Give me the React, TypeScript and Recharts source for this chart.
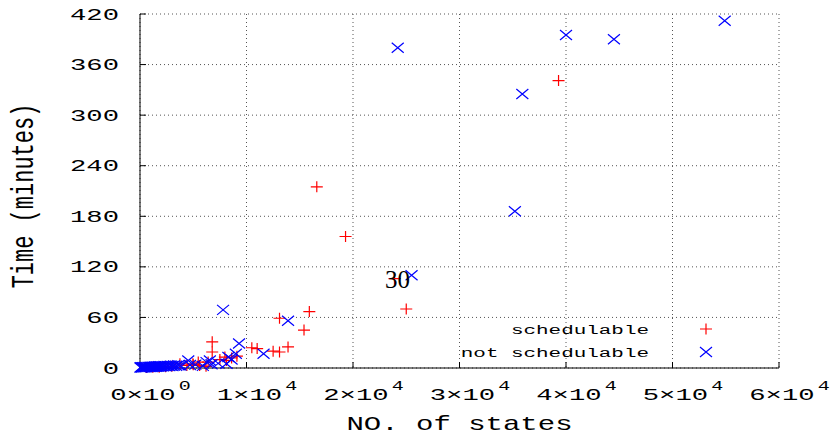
import React from 'react';
import { ScatterChart, Scatter, XAxis, YAxis, CartesianGrid, ReferenceDot, Label } from 'recharts';

const xTicks = [0, 10000, 20000, 30000, 40000, 50000, 60000];
const yTicks = [0, 60, 120, 180, 240, 300, 360, 420];

// red "+" points
const schedulable = [
  { states: 39300, minutes: 341 },
  { states: 16600, minutes: 215 },
  { states: 19300, minutes: 156 },
  { states: 25000, minutes: 70 },
  { states: 23900, minutes: 106 },
  { states: 15900, minutes: 67 },
  { states: 13100, minutes: 59 },
  { states: 15400, minutes: 45 },
  { states: 13900, minutes: 25 },
  { states: 6780, minutes: 31 },
  { states: 6780, minutes: 19 },
  { states: 10500, minutes: 24 },
  { states: 11000, minutes: 23 },
  { states: 12500, minutes: 20 },
  { states: 13100, minutes: 19 },
  { states: 7970, minutes: 13 },
  { states: 8120, minutes: 9 },
  { states: 7500, minutes: 10 },
  { states: 8600, minutes: 12 },
  { states: 9100, minutes: 14 },
  { states: 6400, minutes: 7 },
  { states: 5470, minutes: 7 },
  { states: 4970, minutes: 5 },
  { states: 3750, minutes: 5 },
  { states: 4400, minutes: 3 },
  { states: 5000, minutes: 4 },
  { states: 5600, minutes: 3 },
  { states: 6200, minutes: 2 },
  { states: 3000, minutes: 2 },
  { states: 2400, minutes: 1.5 },
  { states: 1800, minutes: 1 },
  { states: 1200, minutes: 1 },
  { states: 600, minutes: 0.5 },
];

// blue "x" points
const notSchedulable = [
  { states: 54900, minutes: 412 },
  { states: 40000, minutes: 395 },
  { states: 44500, minutes: 390 },
  { states: 24200, minutes: 380 },
  { states: 35900, minutes: 325 },
  { states: 35200, minutes: 186 },
  { states: 25500, minutes: 110 },
  { states: 7800, minutes: 69 },
  { states: 13900, minutes: 56 },
  { states: 9300, minutes: 29 },
  { states: 11600, minutes: 17 },
  { states: 9000, minutes: 17 },
  { states: 8300, minutes: 13 },
  { states: 8600, minutes: 10 },
  { states: 6560, minutes: 9 },
  { states: 4530, minutes: 9 },
  { states: 4690, minutes: 3.5 },
  { states: 6250, minutes: 7 },
  { states: 6720, minutes: 4.5 },
  { states: 7340, minutes: 5.5 },
  { states: 8120, minutes: 5 },
  { states: 5900, minutes: 2.5 },
  { states: 5200, minutes: 4 },
  { states: 40, minutes: 0.5 },
  { states: 120, minutes: 0.8 },
  { states: 200, minutes: 0.6 },
  { states: 280, minutes: 1.0 },
  { states: 360, minutes: 0.7 },
  { states: 440, minutes: 1.1 },
  { states: 520, minutes: 0.9 },
  { states: 600, minutes: 1.2 },
  { states: 700, minutes: 1.0 },
  { states: 800, minutes: 1.3 },
  { states: 900, minutes: 1.1 },
  { states: 1000, minutes: 1.4 },
  { states: 1100, minutes: 1.2 },
  { states: 1200, minutes: 1.6 },
  { states: 1300, minutes: 1.3 },
  { states: 1400, minutes: 1.7 },
  { states: 1500, minutes: 1.5 },
  { states: 1600, minutes: 1.8 },
  { states: 1700, minutes: 1.6 },
  { states: 1800, minutes: 2.0 },
  { states: 1900, minutes: 1.7 },
  { states: 2000, minutes: 2.1 },
  { states: 2150, minutes: 1.9 },
  { states: 2300, minutes: 2.3 },
  { states: 2450, minutes: 2.0 },
  { states: 2600, minutes: 2.5 },
  { states: 2750, minutes: 2.2 },
  { states: 2900, minutes: 2.8 },
  { states: 3050, minutes: 2.4 },
  { states: 3200, minutes: 3.0 },
  { states: 3400, minutes: 2.7 },
  { states: 3600, minutes: 3.3 },
  { states: 3800, minutes: 3.0 },
];

// stray label sitting in the plot
const annotation = { states: 24180, minutes: 105, text: '30' };

const MONO = '"Liberation Mono", "DejaVu Sans Mono", monospace';
const RED = '#ff0000';
const BLUE = '#0000ff';

function plusPath(cx: number, cy: number) {
  return `M${cx - 6},${cy}H${cx + 6}M${cx},${cy - 5.5}V${cy + 5.5}`;
}
function crossPath(cx: number, cy: number) {
  return `M${cx - 6},${cy - 5}L${cx + 6},${cy + 5}M${cx - 6},${cy + 5}L${cx + 6},${cy - 5}`;
}

const PlusShape = (props: any) => {
  const { cx, cy } = props;
  if (cx == null || cy == null) return null;
  return <path d={plusPath(cx, cy)} stroke={RED} strokeWidth={1.2} fill="none" />;
};

const CrossShape = (props: any) => {
  const { cx, cy } = props;
  if (cx == null || cy == null) return null;
  return <path d={crossPath(cx, cy)} stroke={BLUE} strokeWidth={1.2} fill="none" />;
};

const XTick = (props: any) => {
  const { x, y, payload } = props;
  const v = payload.value;
  const mant = v === 0 ? '0' : String(v / 10000);
  const exp = v === 0 ? '0' : '4';
  return (
    <g transform={`translate(${x + 10.5},${y + 32}) scale(1.6,1)`}>
      <text textAnchor="middle" fontFamily={MONO} fontSize={17} fill="#000">
        {mant}×10
        <tspan dx={2} dy={-10} fontSize={12.5}>
          {exp}
        </tspan>
      </text>
    </g>
  );
};

const YTick = (props: any) => {
  const { x, y, payload } = props;
  return (
    <g transform={`translate(${x - 21},${y + 5.5}) scale(1.6,1)`}>
      <text textAnchor="end" fontFamily={MONO} fontSize={17} fill="#000">
        {payload.value}
      </text>
    </g>
  );
};

const XTitle = (props: any) => {
  const { x, y, width } = props.viewBox;
  return (
    <g transform={`translate(${x + width / 2},${y + 62}) scale(1.45,1)`}>
      <text textAnchor="middle" fontFamily={MONO} fontSize={20} fill="#000">
        NO. of states
      </text>
    </g>
  );
};

const YTitle = (props: any) => {
  const { x, y, height } = props.viewBox;
  return (
    <g transform={`translate(${x - 47},${y + height / 2 + 5}) scale(1.4,1) rotate(-90)`}>
      <text textAnchor="middle" fontFamily={MONO} fontSize={22} fill="#000">
        Time (minutes)
      </text>
    </g>
  );
};

function LegendOverlay() {
  return (
    <svg
      width={831}
      height={437}
      style={{ position: 'absolute', left: 0, top: 0, pointerEvents: 'none' }}
    >
      <g transform="translate(649,334) scale(1.55,1)">
        <text textAnchor="end" fontFamily={MONO} fontSize={13.5} fill="#000">
          schedulable
        </text>
      </g>
      <path d={plusPath(706, 329)} stroke={RED} strokeWidth={1.2} fill="none" />
      <g transform="translate(649,357) scale(1.55,1)">
        <text textAnchor="end" fontFamily={MONO} fontSize={13.5} fill="#000">
          not schedulable
        </text>
      </g>
      <path d={crossPath(706, 352)} stroke={BLUE} strokeWidth={1.2} fill="none" />
    </svg>
  );
}

export default function App() {
  return (
    <div style={{ position: 'absolute', left: 0, top: 0, width: 831, height: 437, background: '#fff' }}>
      <ScatterChart width={831} height={437} margin={{ top: 14, right: 52, bottom: 29, left: 80 }}>
        <CartesianGrid stroke="#555" strokeDasharray="1 3" />
        <XAxis
          dataKey="states"
          type="number"
          domain={[0, 60000]}
          ticks={xTicks}
          height={40}
          tickSize={-6}
          tickMargin={6}
          tick={<XTick />}
          axisLine={{ stroke: '#000' }}
          tickLine={{ stroke: '#000' }}
          label={<Label content={<XTitle />} />}
        />
        <XAxis
          xAxisId="top"
          orientation="top"
          type="number"
          domain={[0, 60000]}
          ticks={xTicks}
          height={0}
          tickSize={-6}
          tick={false}
          axisLine={{ stroke: '#000' }}
          tickLine={{ stroke: '#000' }}
        />
        <YAxis
          dataKey="minutes"
          type="number"
          domain={[0, 420]}
          ticks={yTicks}
          width={60}
          tickSize={-6}
          tickMargin={6}
          tick={<YTick />}
          axisLine={{ stroke: '#000' }}
          tickLine={{ stroke: '#000' }}
          label={<Label content={<YTitle />} />}
        />
        <YAxis
          yAxisId="right"
          orientation="right"
          type="number"
          domain={[0, 420]}
          ticks={yTicks}
          width={0}
          tickSize={-6}
          tick={false}
          axisLine={{ stroke: '#000' }}
          tickLine={{ stroke: '#000' }}
        />
        <Scatter data={schedulable} shape={<PlusShape />} isAnimationActive={false} />
        <Scatter data={notSchedulable} shape={<CrossShape />} isAnimationActive={false} />
        <ReferenceDot
          x={annotation.states}
          y={annotation.minutes}
          r={1}
          fill="none"
          stroke="none"
          label={{
            value: annotation.text,
            position: 'center',
            fontFamily: '"Liberation Serif", "DejaVu Serif", serif',
            fontSize: 25,
            fill: '#000',
          }}
        />
      </ScatterChart>
      <LegendOverlay />
    </div>
  );
}
